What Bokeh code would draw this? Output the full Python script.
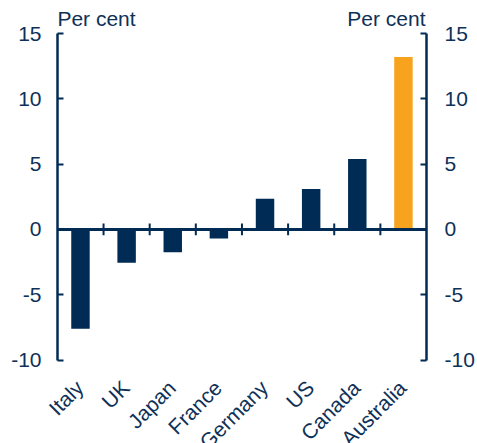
import math
from bokeh.plotting import figure
from bokeh.core.properties import value
from bokeh.models import LinearAxis, Range1d, FixedTicker, Label, LabelSet, ColumnDataSource
from bokeh.embed import file_html
from bokeh.resources import INLINE

countries = ["Italy", "UK", "Japan", "France", "Germany", "US", "Canada", "Australia"]
values = [-7.6, -2.55, -1.75, -0.7, 2.35, 3.1, 5.4, 13.2]
highlight = "Australia"
y_ticks = [-10, -5, 0, 5, 10, 15]
y_tick_labels = ["-10", "-5", "0", "5", "10", "15"]
unit_label = "Per cent"

NAVY = "#002B54"
ORANGE = "#F8A31D"
TEXT = "#0E3158"
FONT = "Liberation Sans"
FS = "21px"

W, H = 477, 443
TOP_PX, BOT_PX = 33, 359.5          # screen rows of y=15 and y=-10
LEFT_PX, RIGHT_PX = 57, 429.5       # screen columns of the two value axes
LEFT_BORDER, RIGHT_BORDER = 48, W - RIGHT_PX
ppu = (BOT_PX - TOP_PX) / (y_ticks[-1] - y_ticks[0])
y_end = y_ticks[-1] + TOP_PX / ppu
y_start = y_ticks[0] - (H - BOT_PX) / ppu

n = len(countries)
ppx = (RIGHT_PX - LEFT_PX) / n
x_start = -(LEFT_PX - LEFT_BORDER) / ppx

xs = [i + 0.5 for i in range(n)]
colors = [ORANGE if c == highlight else NAVY for c in countries]
src = ColumnDataSource(dict(x=xs, top=values, color=colors,
                            name=countries, base=[y_ticks[0]] * n))

p = figure(width=W, height=H, x_range=Range1d(x_start, n), y_range=Range1d(y_start, y_end),
           output_backend="svg", toolbar_location=None, y_axis_location=None, x_axis_location=None,
           min_border_left=LEFT_BORDER, min_border_right=int(RIGHT_BORDER),
           min_border_top=0, min_border_bottom=0)
p.outline_line_color = None
p.xgrid.visible = False
p.ygrid.visible = False
p.background_fill_color = "white"
p.border_fill_color = "white"

p.vbar(x="x", top="top", bottom=0, width=0.4, fill_color="color", line_color=None, source=src)

# zero line with category separators
p.segment(x0=[0], x1=[n], y0=[0], y1=[0], line_color=NAVY, line_width=3)
bounds = list(range(1, n))
p.segment(x0=bounds, x1=bounds, y0=[-0.45] * len(bounds), y1=[0.45] * len(bounds),
          line_color=NAVY, line_width=2)

# category labels (rotated) below the plot
p.add_layout(LabelSet(x="x", y="base", text="name", source=src, angle=math.pi / 4,
                      x_offset=-9, y_offset=-16, text_align="right", text_baseline="top",
                      text_font=value(FONT), text_font_size=value(FS), text_color=TEXT))

overrides = {t: l for t, l in zip(y_ticks, y_tick_labels)}
blank = {t: "" for t in y_ticks}


def style(ax, labels, line, standoff):
    ax.ticker = FixedTicker(ticks=y_ticks)
    ax.bounds = (y_ticks[0], y_ticks[-1])
    ax.major_label_overrides = overrides if labels else blank
    ax.axis_line_color = NAVY if line else None
    ax.axis_line_width = 2.5
    ax.major_tick_line_color = NAVY if line else None
    ax.major_tick_line_width = 2
    ax.major_tick_in = 6 if line else 0
    ax.major_tick_out = 0
    ax.minor_tick_line_color = None
    ax.major_label_text_font = FONT
    ax.major_label_text_font_size = FS
    ax.major_label_text_color = TEXT
    ax.major_label_standoff = standoff
    return ax


# left: tick labels in the side panel, axis line and ticks at x = 0
p.add_layout(style(LinearAxis(), True, False, 7), "left")
left_line = style(LinearAxis(), False, True, 0)
left_line.fixed_location = 0
p.add_layout(left_line, "left")
# right: ordinary axis
p.add_layout(style(LinearAxis(), True, True, 18), "right")

p.add_layout(Label(x=0, y=y_ticks[-1], y_offset=4, text=unit_label, text_align="left",
                   text_baseline="bottom", text_font=FONT, text_font_size=FS, text_color=TEXT))
p.add_layout(Label(x=n, y=y_ticks[-1], x_offset=-1, y_offset=4, text=unit_label, text_align="right",
                   text_baseline="bottom", text_font=FONT, text_font_size=FS, text_color=TEXT))

open("out.html", "w").write(file_html(p, INLINE))
